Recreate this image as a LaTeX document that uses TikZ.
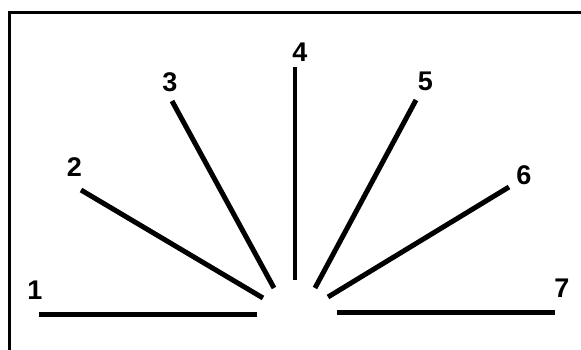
\documentclass[tikz,border=0pt]{standalone}
\usepackage{fontspec}
\setmainfont{Liberation Sans}
\begin{document}
\begin{tikzpicture}[x=1pt, y=-1pt,
    ray/.style={line width=5pt},
    num/.style={font=\fontsize{27}{27}\selectfont\bfseries, inner sep=0pt}]
    \useasboundingbox (0,0) rectangle (581,349);

    % open frame
    \draw[line width=3pt] (583,12) -- (9,12) -- (9,352);

    % ray end points
    \coordinate (s1) at (39,314.5);  \coordinate (e1) at (257,314.5);
    \coordinate (s2) at (81,190);    \coordinate (e2) at (263,298);
    \coordinate (s3) at (172,101);   \coordinate (e3) at (274,288);
    \coordinate (s4) at (295,67);    \coordinate (e4) at (295,280);
    \coordinate (s5) at (416,100);   \coordinate (e5) at (315,288);
    \coordinate (s6) at (509,187);   \coordinate (e6) at (328,297);
    \coordinate (s7) at (555,312.5); \coordinate (e7) at (337,312.5);

    \draw[ray, line width=5.5pt] (s1) -- (e1);
    \draw[ray] (s2) -- (e2);
    \draw[ray] (s3) -- (e3);
    \draw[ray, line width=4.5pt] (s4) -- (e4);
    \draw[ray] (s5) -- (e5);
    \draw[ray] (s6) -- (e6);
    \draw[ray, line width=5.5pt] (s7) -- (e7);

    % labels
    \node[num] (n1) at (35,290) {1};
    \node[num] (n2) at (74.5,167) {2};
    \node[num] (n3) at (170,82) {3};
    \node[num] (n4) at (300,52) {4};
    \node[num] (n5) at (425.5,81) {5};
    \node[num] (n6) at (524,175) {6};
    \node[num] (n7) at (562,288) {7};
\end{tikzpicture}
\end{document}
